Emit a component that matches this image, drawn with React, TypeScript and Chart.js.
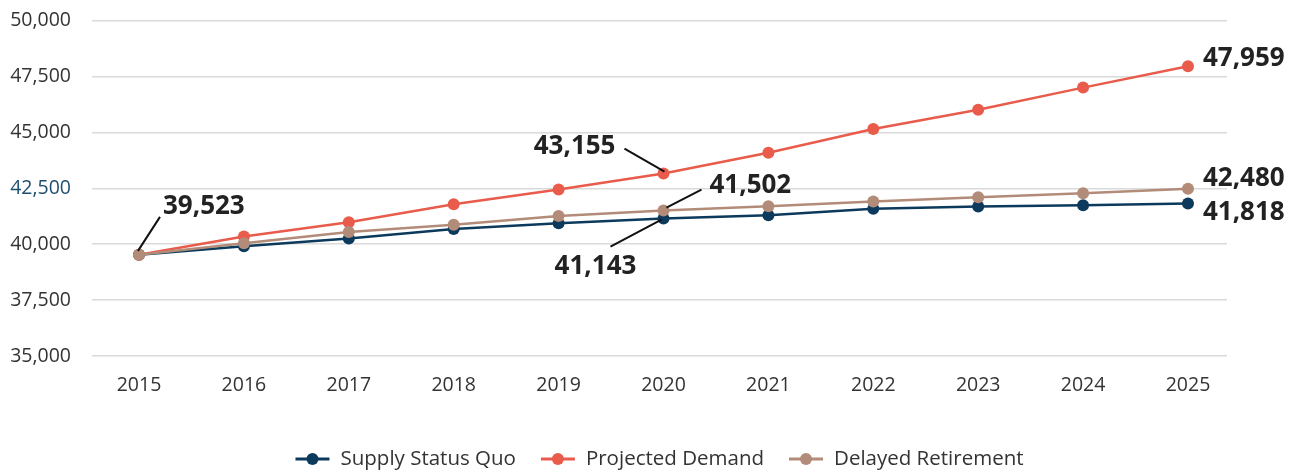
import React, { useEffect, useRef } from "react";
import { Chart, registerables } from "chart.js";

Chart.register(...registerables);

const years = [2015, 2016, 2017, 2018, 2019, 2020, 2021, 2022, 2023, 2024, 2025];
const supplyStatusQuo = [39523, 39910, 40250, 40680, 40940, 41143, 41290, 41580, 41680, 41740, 41818];
const projectedDemand = [39523, 40340, 40980, 41780, 42440, 43155, 44090, 45150, 46010, 47000, 47959];
const delayedRetirement = [39523, 40040, 40540, 40870, 41260, 41502, 41690, 41910, 42100, 42280, 42480];
const yTicks = [35000, 37500, 40000, 42500, 45000, 47500, 50000];
const seriesNames = ["Supply Status Quo", "Projected Demand", "Delayed Retirement"];
const seriesColors = ["#0c3a5c", "#e95b4b", "#b28b79"];

// callouts: which dataset / year index to label, and the pixel offsets of leader line and text
const callouts = [
  { ds: 2, idx: 0, line: [-1, -4, 21, -38], text: [24, -48], align: "left" },
  { ds: 1, idx: 5, line: [1, -2, -39, -25], text: [-48, -27], align: "right" },
  { ds: 2, idx: 5, line: [3, -3, 38, -21], text: [46, -25], align: "left" },
  { ds: 0, idx: 5, line: [-2, 1, -53, 28], text: [-68, 48], align: "center" },
  { ds: 1, idx: 10, line: null, text: [15, -8], align: "left" },
  { ds: 2, idx: 10, line: null, text: [15, -10], align: "left" },
  { ds: 0, idx: 10, line: null, text: [15, 9], align: "left" },
];

const fmt = (v: number) => v.toLocaleString("en-US");

const calloutPlugin = {
  id: "callouts",
  afterDatasetsDraw(chart: any) {
    const ctx = chart.ctx;
    ctx.save();
    ctx.strokeStyle = "#111";
    ctx.lineWidth = 2;
    ctx.fillStyle = "#222";
    ctx.font = 'bold 26px "Open Sans"';
    ctx.textBaseline = "middle";
    callouts.forEach((c) => {
      const pt = chart.getDatasetMeta(c.ds).data[c.idx];
      if (!pt) return;
      const x = pt.x;
      const y = pt.y;
      if (c.line) {
        ctx.beginPath();
        ctx.moveTo(x + c.line[0], y + c.line[1]);
        ctx.lineTo(x + c.line[2], y + c.line[3]);
        ctx.stroke();
      }
      const value = chart.data.datasets[c.ds].data[c.idx].y;
      ctx.textAlign = c.align;
      ctx.fillText(fmt(value), x + c.text[0], y + c.text[1]);
    });
    ctx.restore();
  },
};

const legendPlugin = {
  id: "customLegend",
  afterDraw(chart: any) {
    const ctx = chart.ctx;
    const area = chart.chartArea;
    ctx.save();
    ctx.font = '20.5px "Open Sans"';
    const markerW = 34;
    const gapText = 11;
    const gapItem = 25;
    const widths = seriesNames.map((n) => ctx.measureText(n).width);
    const total = widths.reduce((a, w) => a + markerW + gapText + w, 0) + gapItem * (seriesNames.length - 1);
    let x = (area.left + area.right) / 2 - total / 2;
    const y = 459;
    seriesNames.forEach((n, i) => {
      ctx.strokeStyle = seriesColors[i];
      ctx.fillStyle = seriesColors[i];
      ctx.lineWidth = 3;
      ctx.beginPath();
      ctx.moveTo(x, y);
      ctx.lineTo(x + markerW, y);
      ctx.stroke();
      ctx.beginPath();
      ctx.arc(x + markerW / 2, y, 6, 0, Math.PI * 2);
      ctx.fill();
      ctx.fillStyle = "#333";
      ctx.textAlign = "left";
      ctx.textBaseline = "middle";
      ctx.fillText(n, x + markerW + gapText, y);
      x += markerW + gapText + widths[i] + gapItem;
    });
    ctx.restore();
  },
};

export default function App() {
  const ref = useRef<HTMLCanvasElement | null>(null);
  useEffect(() => {
    if (!ref.current) return;
    const series = [supplyStatusQuo, projectedDemand, delayedRetirement];
    const orders = [3, 2, 1];
    const chart = new Chart(ref.current, {
      type: "line",
      data: {
        datasets: series.map((s, i) => ({
          label: seriesNames[i],
          data: years.map((yr, j) => ({ x: yr, y: s[j] })),
          borderColor: seriesColors[i],
          backgroundColor: seriesColors[i],
          borderWidth: 2.5,
          pointRadius: 6,
          pointBorderWidth: 0,
          pointBackgroundColor: seriesColors[i],
          tension: 0,
          order: orders[i],
        })),
      },
      options: {
        animation: false,
        responsive: true,
        maintainAspectRatio: false,
        layout: { padding: { top: 0, right: 72, bottom: 0, left: 0 } },
        plugins: {
          legend: { display: false },
          tooltip: { enabled: false },
        },
        scales: {
          x: {
            type: "linear",
            min: 2014.552,
            max: 2025.372,
            grid: { display: false, drawTicks: false },
            border: { display: false },
            afterBuildTicks: (scale: any) => {
              scale.ticks = years.map((v) => ({ value: v }));
            },
            afterFit: (scale: any) => {
              scale.height = 118;
            },
            ticks: {
              padding: 18,
              color: "#333",
              font: { family: "Open Sans", size: 19.5 },
              callback: (v: any) => String(v),
              maxRotation: 0,
              autoSkip: false,
            },
          },
          y: {
            min: 35000,
            max: 50000,
            afterBuildTicks: (scale: any) => {
              scale.ticks = yTicks.map((v) => ({ value: v }));
            },
            afterFit: (scale: any) => {
              scale.width = 92;
              scale.paddingTop = 20.5;
              scale.paddingBottom = 12;
            },
            grid: { color: "#dadada", lineWidth: 1.4, drawTicks: false },
            border: { display: false },
            ticks: {
              padding: 21,
              font: { family: "Open Sans", size: 19.5 },
              color: (c: any) => (c.tick && c.tick.value === 42500 ? "#1d4e70" : "#333"),
              callback: (v: any) => fmt(Number(v)),
            },
          },
        },
      },
      plugins: [calloutPlugin, legendPlugin],
    } as any);
    return () => chart.destroy();
  }, []);
  return (
    <div style={{ position: "fixed", left: 0, top: 0, width: 1299, height: 474, background: "#fff" }}>
      <canvas ref={ref} />
    </div>
  );
}
